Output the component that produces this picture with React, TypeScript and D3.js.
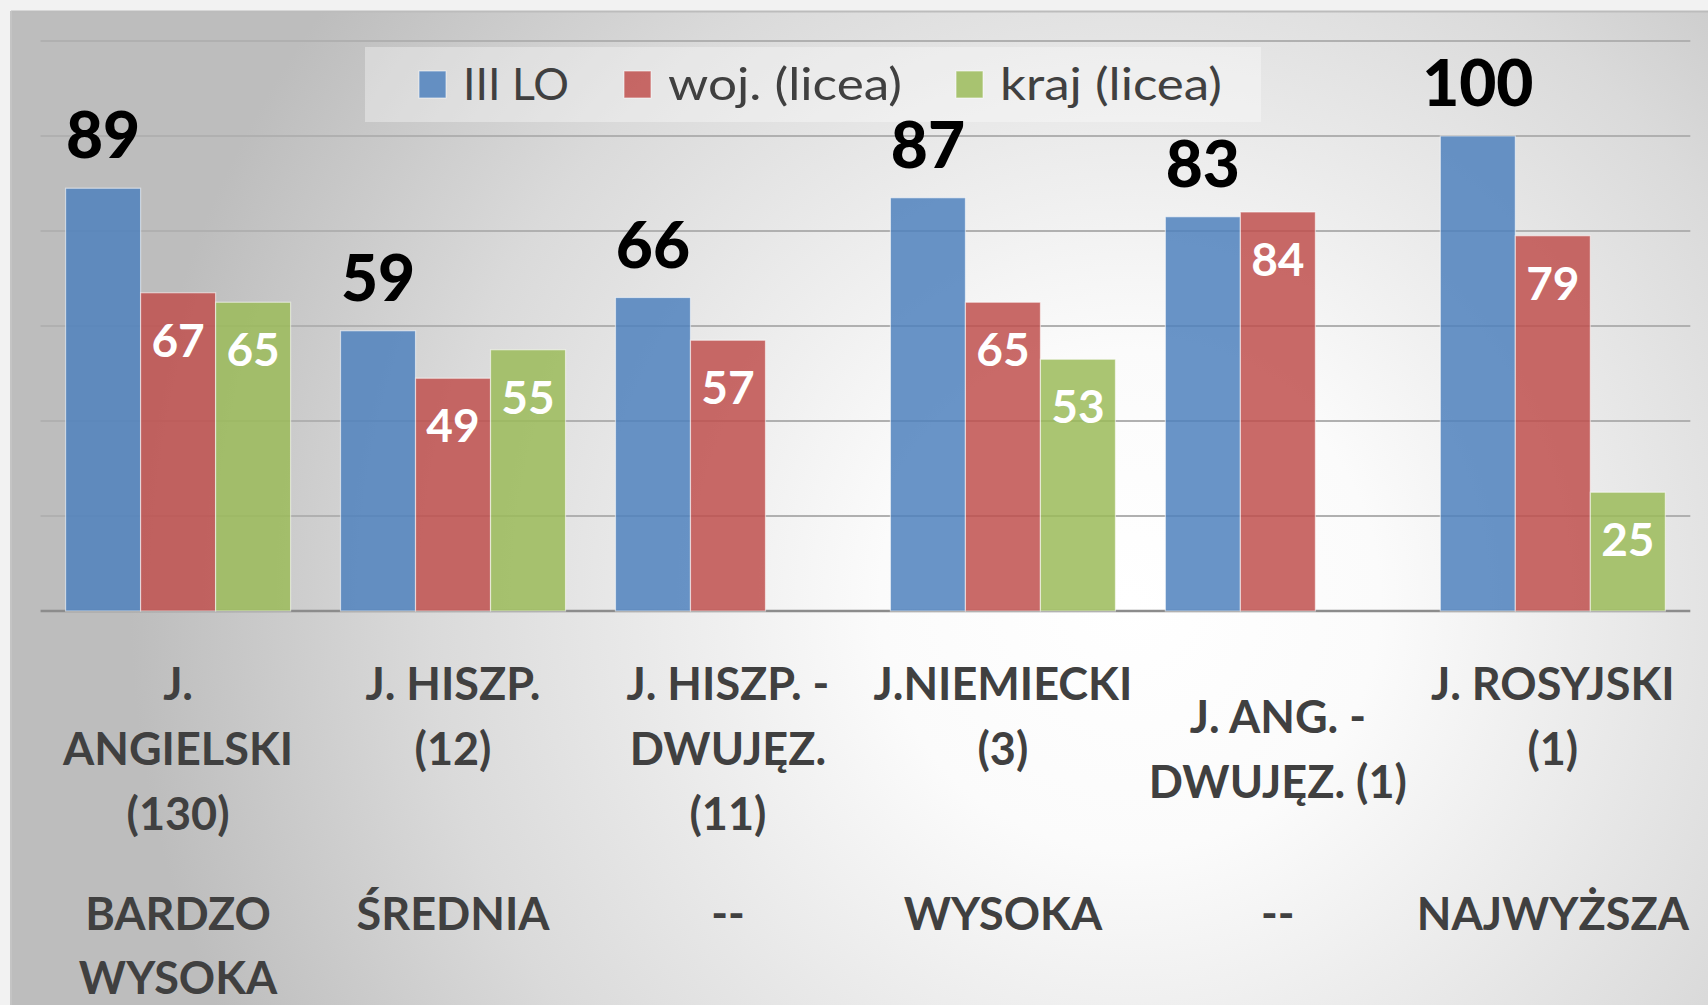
import React from "react";
import * as d3 from "d3";

const categories = ["ang", "hiszp", "hiszpDw", "niem", "angDw", "ros"];
const categoryLines: string[][] = [
  ["J.", "ANGIELSKI", "(130)"],
  ["J. HISZP.", "(12)"],
  ["J. HISZP. -", "DWUJĘZ.", "(11)"],
  ["J.NIEMIECKI", "(3)"],
  ["J. ANG. -", "DWUJĘZ. (1)"],
  ["J. ROSYJSKI", "(1)"],
];
const categoryLineStart = [0, 0, 0, 0, 0.5, 0];
const ratingLines: string[][] = [
  ["BARDZO", "WYSOKA"],
  ["ŚREDNIA"],
  ["--"],
  ["WYSOKA"],
  ["--"],
  ["NAJWYŻSZA"],
];
const seriesNames = ["III LO", "woj. (licea)", "kraj (licea)"];
const seriesColors = ["#4F81BD", "#C0504D", "#9BBB59"];
const iiiLO: (number | null)[] = [89, 59, 66, 87, 83, 100];
const woj: (number | null)[] = [67, 49, 57, 65, 84, 79];
const kraj: (number | null)[] = [65, 55, null, 53, null, 25];
const seriesValues = [iiiLO, woj, kraj];
const yTicks = [0, 20, 40, 60, 80, 100, 120];

const W = 1708;
const H = 1005;

export default function App() {
  const x0 = d3.scaleBand<string>().domain(categories).range([40.6, 1690.3]).padding(0);
  const x1 = d3
    .scaleBand<number>()
    .domain([0, 1, 2])
    .range([0, x0.bandwidth()])
    .paddingInner(0)
    .paddingOuter(0.333);
  const y = d3.scaleLinear().domain([0, 120]).range([611, 41]);
  const font = "Lato, 'Open Sans', sans-serif";

  const legendX = [419, 624, 956];
  const legendTextX = [463, 668, 1000];
  const legendTextLen = [106, 234, 222];

  return (
    <svg
      width={W}
      height={H}
      style={{ position: "absolute", left: 0, top: 0, display: "block" }}
      fontFamily={font}
    >
      <defs>
        <radialGradient
          id="bg"
          gradientUnits="userSpaceOnUse"
          cx={1130}
          cy={600}
          r={1000}
        >
          <stop offset="0" stopColor="#ffffff" />
          <stop offset="0.25" stopColor="#fbfbfb" />
          <stop offset="0.7" stopColor="#dadada" />
          <stop offset="1" stopColor="#bdbdbd" />
        </radialGradient>
      </defs>
      <rect x={0} y={0} width={W} height={H} fill="#f2f2f2" />
      <rect x={11} y={11} width={W - 11} height={H - 11} fill="url(#bg)" />
      <line x1={11} x2={W} y1={11.5} y2={11.5} stroke="#bcbcbc" strokeWidth={2} />
      <line x1={11} x2={11} y1={11} y2={H} stroke="#c4c4c4" strokeWidth={2} />

      {/* gridlines */}
      {yTicks.map((t) => (
        <line
          key={t}
          x1={40.6}
          x2={1690.3}
          y1={y(t)}
          y2={y(t)}
          stroke={t === 0 ? "#8c8c8c" : "#b0b0b0"}
          strokeWidth={t === 0 ? 2.5 : 1.8}
        />
      ))}

      {/* legend */}
      <rect x={365} y={47} width={896} height={75} fill="#ffffff" fillOpacity={0.35} />
      {seriesNames.map((s, i) => (
        <g key={s}>
          <rect
            x={legendX[i]}
            y={71}
            width={27}
            height={27}
            fill={seriesColors[i]}
            fillOpacity={0.85}
            stroke="#ffffff"
            strokeOpacity={0.6}
          />
          <text
            x={legendTextX[i]}
            y={100}
            fontSize={45}
            fill="#404040"
            textLength={legendTextLen[i]}
            lengthAdjust="spacingAndGlyphs"
          >
            {s}
          </text>
        </g>
      ))}

      {/* bars */}
      {categories.map((c, ci) => (
        <g key={c} transform={`translate(${x0(c)},0)`}>
          {seriesValues.map((vals, si) => {
            const v = vals[ci];
            if (v === null) return null;
            const bx = x1(si)!;
            const bw = x1.bandwidth();
            return (
              <rect
                key={si}
                x={bx}
                y={y(v)}
                width={bw}
                height={y(0) - y(v)}
                fill={seriesColors[si]}
                fillOpacity={0.85}
                stroke="#ffffff"
                strokeOpacity={0.55}
                strokeWidth={1.2}
              />
            );
          })}
          {seriesValues.map((vals, si) => {
            const v = vals[ci];
            if (v === null) return null;
            const cx = x1(si)! + x1.bandwidth() / 2;
            if (si === 0) {
              return (
                <text
                  key={"l" + si}
                  x={cx}
                  y={y(v) - 30}
                  textAnchor="middle"
                  fontSize={64}
                  fontWeight={900}
                  fill="#000000"
                >
                  {v}
                </text>
              );
            }
            return (
              <text
                key={"l" + si}
                x={cx}
                y={y(v) + 64}
                textAnchor="middle"
                fontSize={46}
                fontWeight={700}
                fill="#ffffff"
              >
                {v}
              </text>
            );
          })}
          {categoryLines[ci].map((line, li) => (
            <text
              key={"c" + li}
              x={x0.bandwidth() / 2}
              y={700 + (li + categoryLineStart[ci]) * 65}
              textAnchor="middle"
              fontSize={45}
              fontWeight={700}
              fill="#404040"
            >
              {line}
            </text>
          ))}
          {ratingLines[ci].map((line, li) => (
            <text
              key={"r" + li}
              x={x0.bandwidth() / 2}
              y={930 + li * 64}
              textAnchor="middle"
              fontSize={45}
              fontWeight={700}
              fill="#404040"
            >
              {line}
            </text>
          ))}
        </g>
      ))}
    </svg>
  );
}
